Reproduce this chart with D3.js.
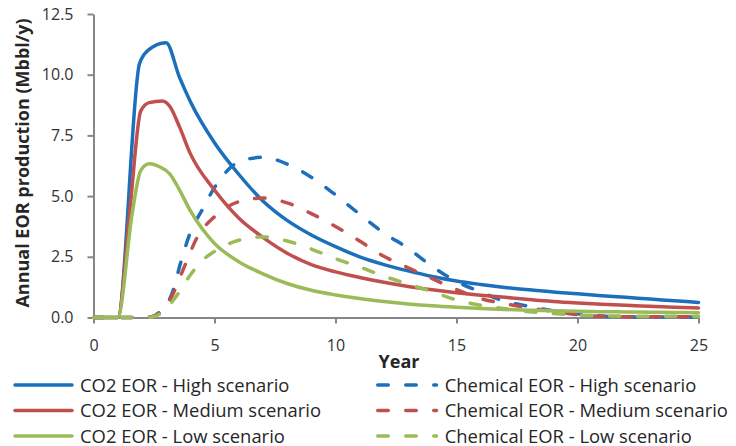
<!DOCTYPE html>
<html>
<head>
<meta charset="utf-8">
<script src="https://cdn.jsdelivr.net/npm/d3@7"></script>
<style>
  body { margin: 0; background: #fff; }
  svg { display: block; font-family: "Open Sans", sans-serif; }
  .axis path, .axis line { stroke: #868686; stroke-width: 2; }
  .axis text { fill: #333; font-size: 16px; font-family: "Open Sans", sans-serif; }
</style>
</head>
<body>
<div id="chart"></div>
<script>
var width = 736, height = 446;

// [year, Mbbl/y]
var co2High = [[0,0],[1,0],[1.9,10.45],[2.25,11.0],[3,11.32],[3.55,9.9],[4,8.9],[5,7.2],[6,5.9],[7,4.8],[8,4.0],[9,3.4],[10,2.92],[11,2.5],[12,2.18],[13,1.92],[14,1.69],[15,1.5],[16,1.36],[17,1.24],[18,1.14],[19,1.05],[20,0.98],[21,0.9],[22,0.83],[23,0.76],[24,0.69],[25,0.62]];
var co2Medium = [[0,0],[1,0],[1.5,4.4],[1.95,8.5],[2.3,8.85],[2.85,8.92],[3.15,8.7],[3.55,7.86],[4,6.75],[5,5.25],[6,4.1],[7,3.3],[8,2.65],[9,2.18],[10,1.88],[11,1.65],[12,1.45],[13,1.28],[14,1.14],[15,1.02],[16,0.92],[17,0.83],[18,0.74],[19,0.66],[20,0.6],[21,0.55],[22,0.5],[23,0.46],[24,0.42],[25,0.39]];
var co2Low = [[0,0],[1,0],[1.6,4.3],[1.95,6.05],[2.3,6.33],[2.75,6.2],[3.15,5.92],[3.55,5.26],[4,4.4],[5,3.05],[6,2.3],[7,1.8],[8,1.4],[9,1.12],[10,0.93],[11,0.78],[12,0.66],[13,0.56],[14,0.48],[15,0.42],[16,0.37],[17,0.33],[18,0.3],[19,0.28],[20,0.26],[21,0.24],[22,0.23],[23,0.22],[24,0.21],[25,0.2]];
var chemHigh = [[0,0],[1,0],[2,0],[2.4,0.03],[2.8,0.3],[3.25,1.0],[3.6,2.25],[4,3.5],[4.5,4.45],[5,5.35],[6,6.4],[7,6.6],[8,6.32],[9,5.78],[10,5.05],[11,4.25],[12,3.48],[13,2.85],[14,2.1],[15,1.48],[16,1.05],[17,0.67],[18,0.46],[19,0.28],[20,0.15],[21,0.06],[22,0.03],[23,0.02],[24,0.02],[25,0.02]];
var chemMedium = [[0,0],[1,0],[2,0],[2.4,0.03],[2.8,0.25],[3.25,0.9],[3.7,1.96],[4.3,3.33],[5,4.15],[6,4.77],[7,4.92],[8,4.72],[9,4.28],[10,3.75],[11,3.15],[12,2.52],[13,2.05],[14,1.6],[15,1.15],[16,0.78],[17,0.57],[18,0.4],[19,0.25],[20,0.12],[21,0.05],[22,0.03],[23,0.03],[24,0.03],[25,0.03]];
var chemLow = [[0,0],[1,0],[2,0],[2.4,0.02],[2.8,0.18],[3.4,0.85],[4,1.75],[4.5,2.35],[5,2.72],[6,3.18],[7,3.32],[8,3.15],[9,2.82],[10,2.42],[11,2.08],[12,1.7],[13,1.38],[14,1.06],[15,0.72],[16,0.5],[17,0.36],[18,0.24],[19,0.17],[20,0.1],[21,0.07],[22,0.06],[23,0.05],[24,0.05],[25,0.05]];

var xTicks = [0, 5, 10, 15, 20, 25],
    yTicks = [0, 2.5, 5, 7.5, 10, 12.5];

var series = [
  {name: "CO2 EOR - High scenario", data: co2High, color: "#1c6fbb", dashed: false},
  {name: "Chemical EOR - High scenario", data: chemHigh, color: "#1c6fbb", dashed: true},
  {name: "CO2 EOR - Medium scenario", data: co2Medium, color: "#c0504d", dashed: false},
  {name: "Chemical EOR - Medium scenario", data: chemMedium, color: "#c0504d", dashed: true},
  {name: "CO2 EOR - Low scenario", data: co2Low, color: "#9bbb59", dashed: false},
  {name: "Chemical EOR - Low scenario", data: chemLow, color: "#9bbb59", dashed: true}
];

var svg = d3.select("#chart").append("svg")
    .attr("width", width)
    .attr("height", height);

var x = d3.scaleLinear().domain([0, 25]).range([93.5, 698.5]),
    y = d3.scaleLinear().domain([0, 12.5]).range([317.5, 14]);

var dash = "10.5,17.5";

// axes
svg.append("g")
    .attr("class", "axis")
    .attr("transform", "translate(" + x(0) + ",0)")
    .call(d3.axisLeft(y).tickValues(yTicks).tickFormat(d3.format(".1f"))
      .tickSize(6).tickSizeOuter(0).tickPadding(14));

svg.append("g")
    .attr("class", "axis")
    .attr("transform", "translate(0," + y(0) + ")")
    .call(d3.axisBottom(x).tickValues(xTicks).tickFormat(d3.format("d"))
      .tickSize(6).tickSizeOuter(0).tickPadding(16));

// lines
var line = d3.line()
    .x(function(d) { return x(d[0]); })
    .y(function(d) { return y(d[1]); })
    .curve(d3.curveMonotoneX);

svg.append("g").selectAll("path")
    .data(series)
    .enter().append("path")
    .attr("d", function(d) { return line(d.data); })
    .attr("fill", "none")
    .attr("stroke", function(d) { return d.color; })
    .attr("stroke-width", 3.5)
    .attr("stroke-linecap", "round")
    .attr("stroke-linejoin", "round")
    .attr("stroke-dasharray", function(d) { return d.dashed ? dash : null; });

// axis titles
svg.append("text")
    .attr("transform", "translate(29,163) rotate(-90)")
    .attr("text-anchor", "middle")
    .style("font-size", "18px")
    .style("font-weight", "bold")
    .style("fill", "#262626")
    .text("Annual EOR production (Mbbl/y)");

svg.append("text")
    .attr("x", 399)
    .attr("y", 368)
    .attr("text-anchor", "middle")
    .style("font-size", "18px")
    .style("font-weight", "bold")
    .style("fill", "#262626")
    .text("Year");

// legend, two columns by row
var legend = svg.append("g").selectAll("g")
    .data(series)
    .enter().append("g")
    .attr("transform", function(d, i) {
      var col = i % 2, row = Math.floor(i / 2);
      return "translate(" + (col ? 377.75 : 15) + "," + (385 + row * 25.5) + ")";
    });

legend.append("line")
    .attr("x1", 0)
    .attr("x2", function(d) { return d.dashed ? 58.75 : 57; })
    .attr("stroke", function(d) { return d.color; })
    .attr("stroke-width", 3.5)
    .attr("stroke-linecap", "round")
    .attr("stroke-dasharray", function(d) { return d.dashed ? dash : null; });

legend.append("text")
    .attr("x", function(d) { return d.dashed ? 67 : 65; })
    .attr("y", 6.5)
    .style("font-size", "18.4px")
    .style("fill", "#262626")
    .text(function(d) { return d.name; });
</script>
</body>
</html>
